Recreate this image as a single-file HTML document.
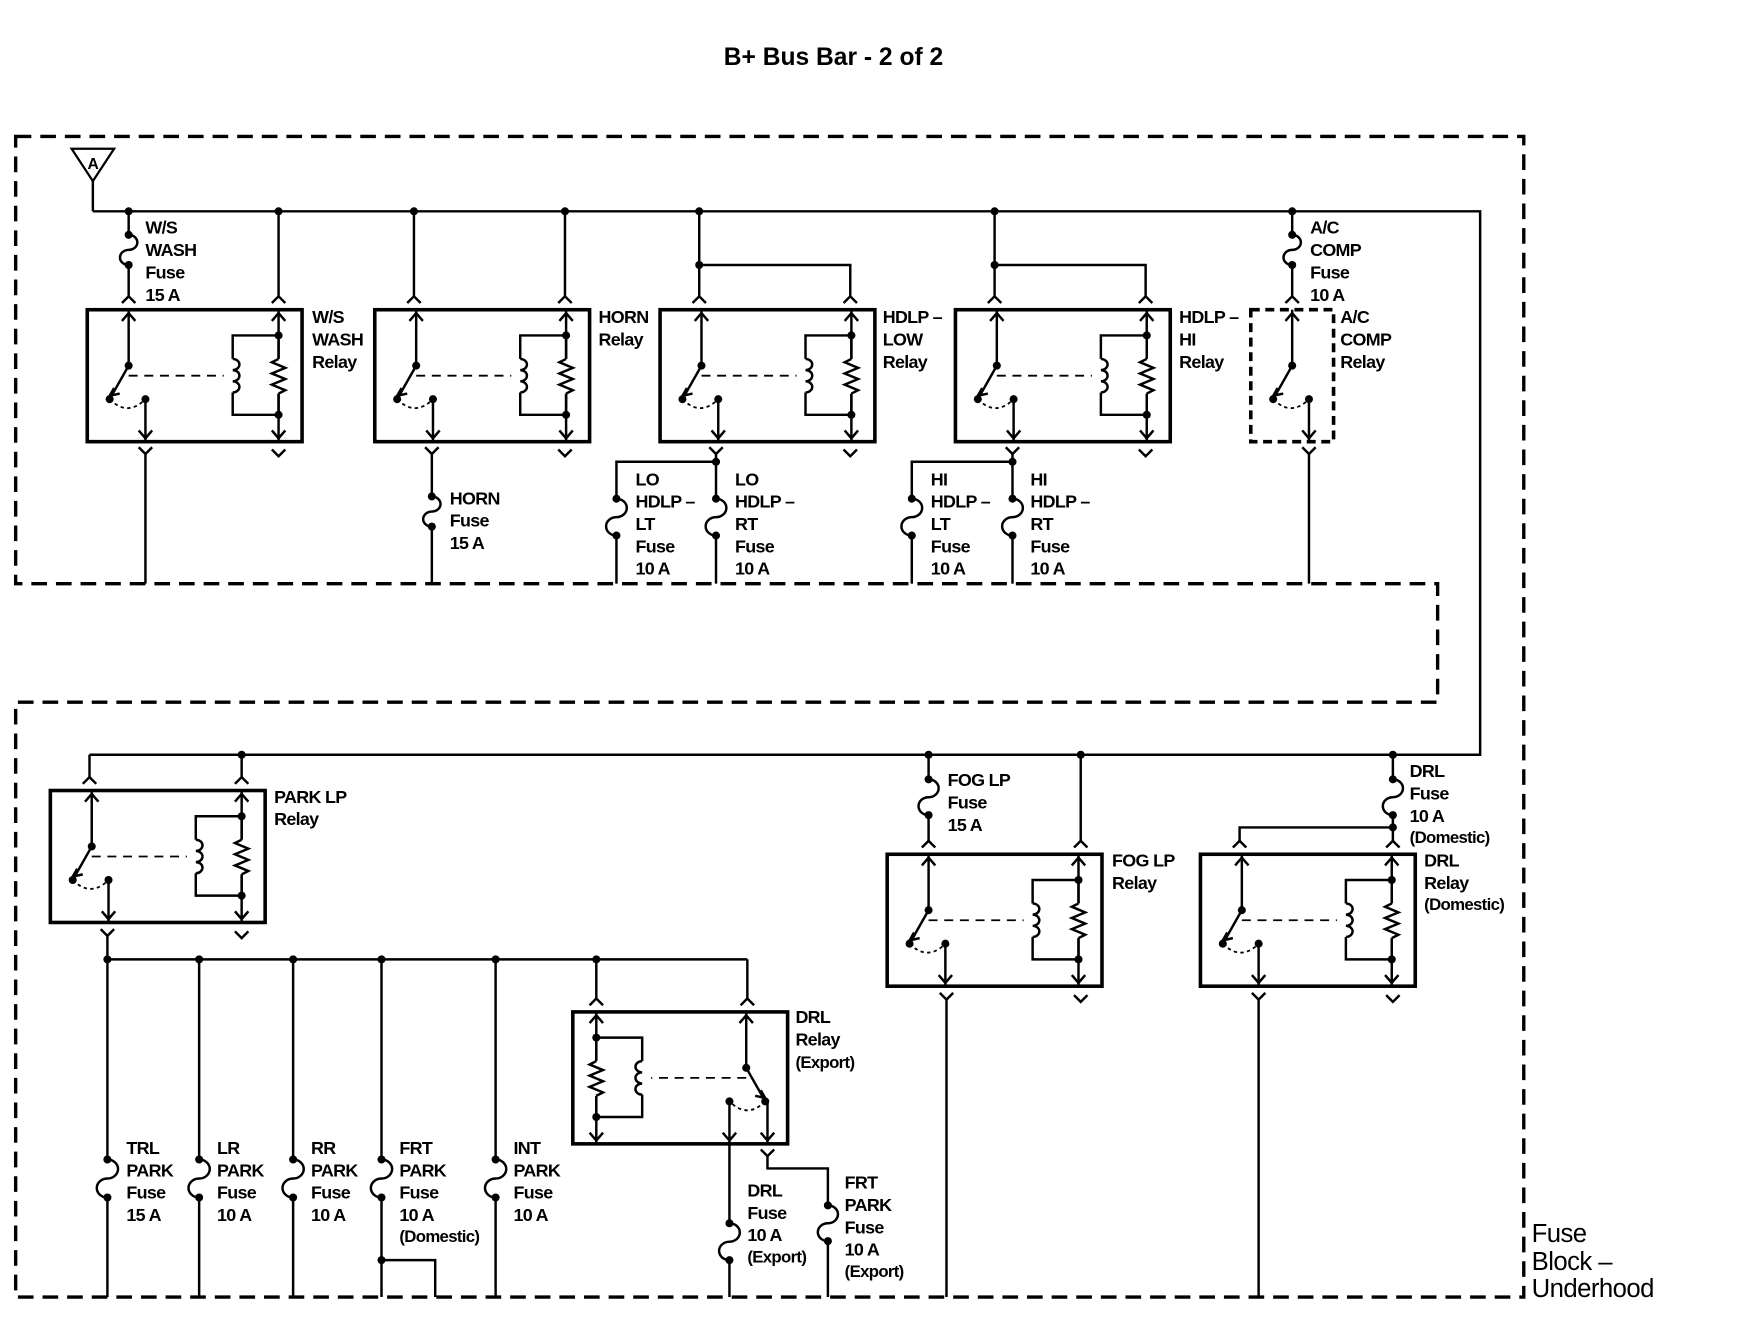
<!DOCTYPE html>
<html><head><meta charset="utf-8">
<style>
html,body{margin:0;padding:0;background:#fff;}
svg{display:block;}
text{font-family:"Liberation Sans Narrow","Liberation Sans",sans-serif;font-size:16px;font-weight:bold;letter-spacing:-0.6px;fill:#000;}
.t{font-family:"Liberation Sans",sans-serif;font-weight:bold;font-size:22px;letter-spacing:0;}
.b{font-family:"Liberation Sans",sans-serif;font-size:23px;font-weight:normal;letter-spacing:-0.5px;}
</style></head>
<body>
<svg id="s" width="1752" height="1344" viewBox="0 0 1566 1202" preserveAspectRatio="none" xmlns="http://www.w3.org/2000/svg">
<g id="g" fill="none" stroke="#000" stroke-width="2.2"></g>
<text class="t" x="745" y="58" text-anchor="middle">B+ Bus Bar - 2 of 2</text>
<text x="83" y="151" text-anchor="middle" style="font-size:14px">A</text>
<g>
<text x="130" y="209">W/S</text><text x="130" y="229">WASH</text><text x="130" y="249">Fuse</text><text x="130" y="269">15 A</text>
<text x="279" y="289">W/S</text><text x="279" y="309">WASH</text><text x="279" y="329">Relay</text>
<text x="535" y="289">HORN</text><text x="535" y="309">Relay</text>
<text x="402" y="451">HORN</text><text x="402" y="471">Fuse</text><text x="402" y="491">15 A</text>
<text x="789" y="289">HDLP –</text><text x="789" y="309">LOW</text><text x="789" y="329">Relay</text>
<text x="1054" y="289">HDLP –</text><text x="1054" y="309">HI</text><text x="1054" y="329">Relay</text>
<text x="568" y="434">LO</text><text x="568" y="454">HDLP –</text><text x="568" y="474">LT</text><text x="568" y="494">Fuse</text><text x="568" y="514">10 A</text>
<text x="657" y="434">LO</text><text x="657" y="454">HDLP –</text><text x="657" y="474">RT</text><text x="657" y="494">Fuse</text><text x="657" y="514">10 A</text>
<text x="832" y="434">HI</text><text x="832" y="454">HDLP –</text><text x="832" y="474">LT</text><text x="832" y="494">Fuse</text><text x="832" y="514">10 A</text>
<text x="921" y="434">HI</text><text x="921" y="454">HDLP –</text><text x="921" y="474">RT</text><text x="921" y="494">Fuse</text><text x="921" y="514">10 A</text>
<text x="1171" y="209">A/C</text><text x="1171" y="229">COMP</text><text x="1171" y="249">Fuse</text><text x="1171" y="269">10 A</text>
<text x="1198" y="289">A/C</text><text x="1198" y="309">COMP</text><text x="1198" y="329">Relay</text>
<text x="245" y="718">PARK LP</text><text x="245" y="738">Relay</text>
<text x="847" y="703">FOG LP</text><text x="847" y="723">Fuse</text><text x="847" y="743">15 A</text>
<text x="994" y="775">FOG LP</text><text x="994" y="795">Relay</text>
<text x="1260" y="695">DRL</text><text x="1260" y="715">Fuse</text><text x="1260" y="735">10 A</text><text x="1260" y="754" style="font-size:15px">(Domestic)</text>
<text x="1273" y="775">DRL</text><text x="1273" y="795">Relay</text><text x="1273" y="814" style="font-size:15px">(Domestic)</text>
<text x="711" y="915">DRL</text><text x="711" y="935">Relay</text><text x="711" y="955" style="font-size:15px">(Export)</text>
<text x="113" y="1032">TRL</text><text x="113" y="1052">PARK</text><text x="113" y="1072">Fuse</text><text x="113" y="1092">15 A</text>
<text x="194" y="1032">LR</text><text x="194" y="1052">PARK</text><text x="194" y="1072">Fuse</text><text x="194" y="1092">10 A</text>
<text x="278" y="1032">RR</text><text x="278" y="1052">PARK</text><text x="278" y="1072">Fuse</text><text x="278" y="1092">10 A</text>
<text x="357" y="1032">FRT</text><text x="357" y="1052">PARK</text><text x="357" y="1072">Fuse</text><text x="357" y="1092">10 A</text><text x="357" y="1111" style="font-size:15px">(Domestic)</text>
<text x="459" y="1032">INT</text><text x="459" y="1052">PARK</text><text x="459" y="1072">Fuse</text><text x="459" y="1092">10 A</text>
<text x="668" y="1070">DRL</text><text x="668" y="1090">Fuse</text><text x="668" y="1110">10 A</text><text x="668" y="1129" style="font-size:15px">(Export)</text>
<text x="755" y="1063">FRT</text><text x="755" y="1083">PARK</text><text x="755" y="1103">Fuse</text><text x="755" y="1123">10 A</text><text x="755" y="1142" style="font-size:15px">(Export)</text>
<text class="b" x="1369" y="1111">Fuse</text><text class="b" x="1369" y="1136">Block –</text><text class="b" x="1369" y="1160">Underhood</text>
</g>
</svg>
<script>
var g=document.getElementById('g'),o='';
function P(d,extra){o+='<path d="'+d+'" '+(extra||'')+'/>';}
function L(x1,y1,x2,y2,e){P('M'+x1+' '+y1+'L'+x2+' '+y2,e);}
function D(x,y){o+='<circle cx="'+x+'" cy="'+y+'" r="3.6" fill="#000" stroke="none"/>';}
function up(x,y){P('M'+(x-6)+' '+(y+7)+'L'+x+' '+y+'L'+(x+6)+' '+(y+7));}
function dn(x,y){P('M'+(x-6)+' '+(y-7)+'L'+x+' '+y+'L'+(x+6)+' '+(y-7));}
function cup(x,y){P('M'+(x-6)+' '+(y+6)+'L'+x+' '+y+'L'+(x+6)+' '+(y+6));}
function vv(x,y){P('M'+(x-6)+' '+y+'L'+x+' '+(y+6)+'L'+(x+6)+' '+y);}
function fuse(x,y1,y2){D(x,y1);D(x,y2);var h=(y2-y1)/2;P('M'+x+' '+y1+'a'+(h/2+1)+' '+(h/2)+' 0 0 1 0 '+h+'a'+(h/2+1)+' '+(h/2)+' 0 0 0 0 '+h);}
// vertical wire with fuse gap
function wf(x,ya,y1,y2,yb){L(x,ya,x,y1);fuse(x,y1,y2);L(x,y2,x,yb);}
function relay(x0,y0,m,nocoil,dash,w){
 w=w||192;var h=118;
 o+='<rect x="'+x0+'" y="'+y0+'" width="'+w+'" height="'+h+'" stroke-width="3.2" '+(dash?'stroke-dasharray="8 5"':'')+'/>';
 var X=function(d){return m?x0+w-d:x0+d;},sg=m?-1:1;
 var sx=X(37);
 L(sx,y0,sx,y0+50);up(sx,y0+3);D(sx,y0+50);
 var tx=sx-17*sg,cx2=sx+15*sg,ty=y0+80;
 L(sx,y0+50,tx,ty);D(tx,ty);D(cx2,ty);
 P('M'+(tx+4*sg)+' '+(ty-10)+'L'+tx+' '+(ty-3)+'L'+(tx+9*sg)+' '+(ty-5),'');
 P('M'+tx+' '+ty+'Q'+((tx+cx2)/2)+' '+(ty+16)+' '+cx2+' '+ty,'stroke-dasharray="3 3" stroke-width="1.6"');
 L(cx2,ty,cx2,y0+h);dn(cx2,y0+h-3);
 if(nocoil)return;
 var cx=X(171),lx=X(130);
 L(sx,y0+59,lx-8*sg,y0+59,'stroke-dasharray="8 6" stroke-width="1.6"');
 L(cx,y0,cx,y0+h);up(cx,y0+3);dn(cx,y0+h-3);
 D(cx,y0+23);D(cx,y0+94);
 P('M'+cx+' '+(y0+23)+'L'+lx+' '+(y0+23)+'L'+lx+' '+(y0+44)+'M'+lx+' '+(y0+74)+'L'+lx+' '+(y0+94)+'L'+cx+' '+(y0+94));
 var d='M'+lx+' '+(y0+44);for(var i=0;i<3;i++){d+='a6 5 0 0 '+(m?0:1)+' 0 10';}
 P(d);
 P('M'+cx+' '+(y0+23)+'L'+cx+' '+(y0+44)+'M'+cx+' '+(y0+75)+'L'+cx+' '+(y0+94));
 o+='<rect x="'+(cx-2)+'" y="'+(y0+44)+'" width="4" height="31" fill="#fff" stroke="none"/>';
 var z='M'+cx+' '+(y0+44);var yy=y0+44;
 var pts=[[-6,3],[6,5],[-6,5],[6,5],[-6,5],[6,5],[0,3]];
 for(var k=0;k<pts.length;k++){yy+=pts[k][1];z+='L'+(cx+pts[k][0])+' '+yy;}
 P(z);
}
P('M14 122H1362V1160H14V628H1285V522H14Z','stroke-width="3" stroke-dasharray="14 8"');
P('M64 133H102L83 162Z','stroke-width="2"');
L(83,162,83,189);
P('M83 189H1323V675H80');
[115,249,370,505,625,889,1155].forEach(function(x){D(x,189);});
// WS
wf(115,189,210,237,265);cup(115,265);L(249,189,249,265);cup(249,265);
relay(78,277);vv(130,400);L(130,406,130,522);vv(249,402);
// HORN
L(370,189,370,265);cup(370,265);L(505,189,505,265);cup(505,265);relay(335,277);
vv(386,400);wf(386,406,444,471,522);vv(505,402);
// LOW
L(625,189,625,265);cup(625,265);D(625,237);P('M625 237H760V265');cup(760,265);relay(590,277);
vv(640,400);L(640,406,640,413);D(640,413);P('M640 413H551V446');
fuse(551,446,479);L(551,479,551,522);wf(640,413,446,479,522);vv(760,402);
// HI
L(889,189,889,265);cup(889,265);D(889,237);P('M889 237H1024V265');cup(1024,265);relay(854,277);
vv(905,400);L(905,406,905,413);D(905,413);P('M905 413H815V446');
fuse(815,446,479);L(815,479,815,522);wf(905,413,446,479,522);vv(1024,402);
// AC
wf(1155,189,210,237,265);cup(1155,265);
relay(1118,277,false,true,true,74);vv(1170,400);L(1170,406,1170,522);
// lower
[216,830,966,1245].forEach(function(x){D(x,675);});
L(80,675,80,695);cup(80,695);L(216,675,216,695);cup(216,695);relay(45,707);
vv(96,831);L(96,837,96,858);D(96,858);P('M96 858H668');
[178,262,341,443,533].forEach(function(x){D(x,858);});
[96,178,262,341,443].forEach(function(x){wf(x,858,1037,1071,1160);});
D(341,1127);P('M341 1127H389V1160');
L(533,858,533,893);cup(533,893);L(668,858,668,893);cup(668,893);
relay(512,905,true);
L(686,985,686,1023);dn(686,1020);
wf(652,1023,1094,1127,1160);
vv(686,1028);P('M686 1034V1045H740V1078');fuse(740,1078,1110);L(740,1110,740,1160);
// FOG
wf(830,675,697,729,752);cup(830,752);L(966,675,966,752);cup(966,752);relay(793,764);
vv(846,888);L(846,894,846,1160);
// DRL dom
wf(1245,675,697,729,752);D(1245,740);P('M1245 740H1108V752');cup(1108,752);cup(1245,752);relay(1073,764);
vv(1125,888);L(1125,894,1125,1160);vv(1245,890);vv(966,890);vv(216,833);
g.innerHTML=o;
</script>
</body></html>
